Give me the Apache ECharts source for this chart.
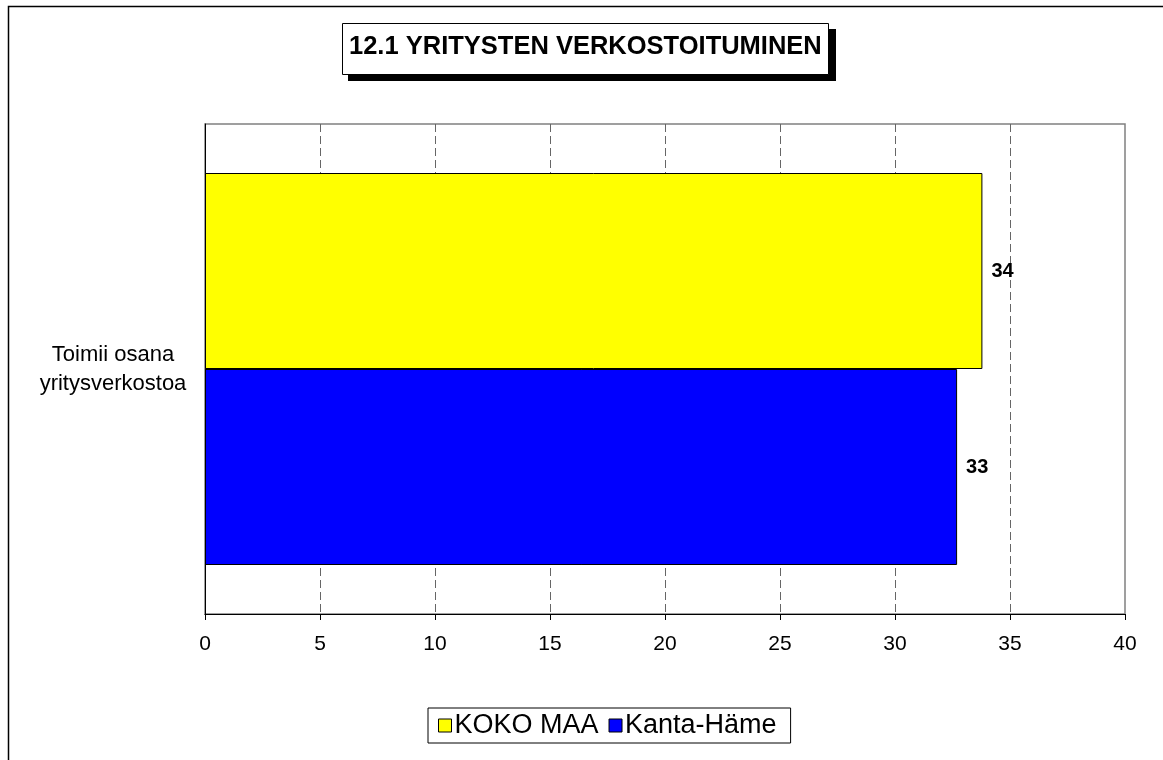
<!DOCTYPE html>
<html>
<head>
<meta charset="utf-8">
<script src="https://cdn.jsdelivr.net/npm/echarts@6/dist/echarts.min.js"></script>
<style>
  html, body { margin: 0; padding: 0; background: #fff; }
  #chart { width: 1163px; height: 760px; }
</style>
</head>
<body>
<div id="chart"></div>
<script>
let categories = ['Toimii osana\nyritysverkostoa'];
let seriesNames = ['KOKO MAA', 'Kanta-Häme'];
let kokoMaa = [33.8];
let kantaHame = [32.7];
let seriesColors = ['#ffff00', '#0000ff'];

let font = 'Arial, "Liberation Sans", sans-serif';
let chart = echarts.init(document.getElementById('chart'));

function barSeries(name, data, color) {
    return {
        name: name,
        type: 'bar',
        data: data,
        barGap: 0,
        barCategoryGap: '20%',
        itemStyle: {
            color: color,
            borderColor: '#000',
            borderWidth: 1
        },
        label: {
            show: true,
            position: 'right',
            distance: 9,
            fontFamily: font,
            fontSize: 20,
            fontWeight: 'bold',
            color: '#000',
            formatter: function (p) {
                return Math.round(p.value);
            }
        }
    };
}

chart.setOption({
    animation: false,
    backgroundColor: '#fff',
    title: {
        text: '12.1 YRITYSTEN VERKOSTOITUMINEN',
        left: 342,
        top: 23,
        padding: [11, 7, 15, 7],
        backgroundColor: '#fff',
        borderColor: '#000',
        borderWidth: 1,
        z: 10,
        textStyle: {
            fontFamily: font,
            fontSize: 25.5,
            fontWeight: 'bold',
            color: '#000'
        }
    },
    legend: {
        data: seriesNames,
        left: 428,
        top: 708,
        padding: [4, 14, 4, 10],
        itemGap: 10,
        itemWidth: 13,
        itemHeight: 13,
        icon: 'rect',
        borderColor: '#000',
        borderWidth: 1,
        backgroundColor: '#fff',
        itemStyle: { borderColor: '#000', borderWidth: 1 },
        textStyle: {
            fontFamily: font,
            fontSize: 27,
            color: '#000',
            padding: [0, 0, 0, -2]
        }
    },
    graphic: [{
        type: 'rect',
        silent: true,
        shape: { x: 8.5, y: 6.5, width: 1300, height: 900 },
        style: { fill: 'none', stroke: '#000', lineWidth: 1.5 }
    }, {
        // title drop shadow
        type: 'rect',
        silent: true,
        z: 1,
        shape: { x: 348, y: 29, width: 488, height: 52 },
        style: { fill: '#000' }
    }],
    grid: {
        left: 205,
        right: 38,
        top: 124,
        bottom: 146,
        show: true,
        borderColor: '#808080',
        borderWidth: 1.5,
        backgroundColor: 'transparent'
    },
    xAxis: {
        type: 'value',
        min: 0,
        max: 40,
        interval: 5,
        axisLine: { show: true, lineStyle: { color: '#000', width: 1 } },
        axisTick: { show: true, length: 6, lineStyle: { color: '#000' } },
        axisLabel: {
            margin: 20,
            fontFamily: font,
            fontSize: 21,
            color: '#000'
        },
        splitLine: {
            show: true,
            showMinLine: false,
            showMaxLine: false,
            lineStyle: { color: '#666', type: [8, 4], width: 1 }
        }
    },
    yAxis: {
        type: 'category',
        data: categories,
        inverse: true,
        axisLine: { show: true, lineStyle: { color: '#000', width: 1 } },
        axisTick: { show: false },
        axisLabel: {
            margin: 92,
            align: 'center',
            lineHeight: 29,
            fontFamily: font,
            fontSize: 22,
            color: '#000'
        }
    },
    series: [
        barSeries(seriesNames[0], kokoMaa, seriesColors[0]),
        barSeries(seriesNames[1], kantaHame, seriesColors[1])
    ]
});
</script>
</body>
</html>
